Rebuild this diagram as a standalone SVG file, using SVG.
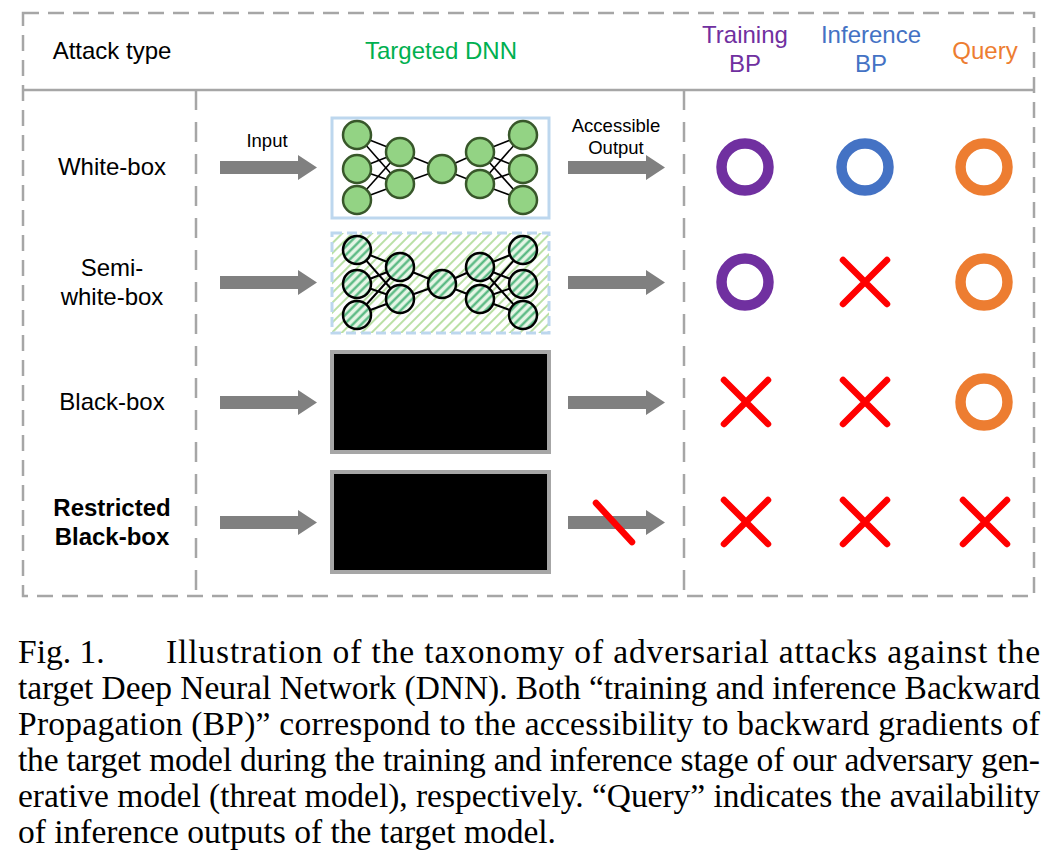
<svg xmlns="http://www.w3.org/2000/svg" width="1062" height="858" viewBox="0 0 1062 858">
<style>
.sans{font-family:"Liberation Sans",Arial,sans-serif;}
.lbl{font-family:"Liberation Sans",Arial,sans-serif;font-size:24px;fill:#000;text-anchor:middle;}
.sm{font-family:"Liberation Sans",Arial,sans-serif;font-size:18.5px;fill:#000;text-anchor:middle;}
.cap{font-family:"Liberation Serif","Times New Roman",serif;font-size:33.5px;fill:#000;}
.frame{fill:none;stroke:#A6A6A6;stroke-width:2.5;stroke-dasharray:16 9;}
.vdiv{fill:none;stroke:#A6A6A6;stroke-width:2.5;stroke-dasharray:20 12;}
.arrow{fill:#808080;}
.edge{stroke:#000;stroke-width:1.6;}
.edgeS{stroke:#000;stroke-width:2;}
.nodeW{fill:#93D384;stroke:#38572A;stroke-width:2.5;}
.nodeS{fill:url(#hatchC);stroke:#000;stroke-width:2.5;}
.ringP{fill:none;stroke:#7030A0;stroke-width:10.5;}
.ringB{fill:none;stroke:#4472C4;stroke-width:10.5;}
.ringO{fill:none;stroke:#ED7D31;stroke-width:10.5;}
.cross{stroke:#FF0000;stroke-width:6.5;stroke-linecap:round;fill:none;}
.blk{fill:#000;stroke:#A6A6A6;stroke-width:4;}
</style>
<defs>
<pattern id="hatchB" patternUnits="userSpaceOnUse" width="7" height="7" patternTransform="rotate(45)">
<rect width="7" height="7" fill="#FFFFFF"/>
<line x1="1" y1="0" x2="1" y2="7" stroke="#A9D98F" stroke-width="1.6"/>
</pattern>
<pattern id="hatchC" patternUnits="userSpaceOnUse" width="6" height="6" patternTransform="rotate(45)">
<rect width="6" height="6" fill="#E6F5E6"/>
<line x1="1.5" y1="0" x2="1.5" y2="6" stroke="#4DB47A" stroke-width="2.2"/>
</pattern>
<symbol id="arr" overflow="visible">
<path d="M0,-6.5 H78 V-12.5 L97,0 L78,12.5 V6.5 H0 Z"/>
</symbol>
<g id="edges">
<line x1="357" y1="135" x2="400" y2="152"/><line x1="357" y1="135" x2="400" y2="184"/>
<line x1="357" y1="169" x2="400" y2="152"/><line x1="357" y1="169" x2="400" y2="184"/>
<line x1="357" y1="200" x2="400" y2="152"/><line x1="357" y1="200" x2="400" y2="184"/>
<line x1="400" y1="152" x2="442" y2="169"/><line x1="400" y1="184" x2="442" y2="169"/>
<line x1="442" y1="169" x2="480" y2="152"/><line x1="442" y1="169" x2="480" y2="184"/>
<line x1="480" y1="152" x2="523" y2="135"/><line x1="480" y1="152" x2="523" y2="169"/><line x1="480" y1="152" x2="523" y2="200"/>
<line x1="480" y1="184" x2="523" y2="135"/><line x1="480" y1="184" x2="523" y2="169"/><line x1="480" y1="184" x2="523" y2="200"/>
</g>
<g id="nodepos">
<circle cx="357" cy="135" r="14"/><circle cx="357" cy="169" r="14"/><circle cx="357" cy="200" r="14"/>
<circle cx="400" cy="152" r="14"/><circle cx="400" cy="184" r="14"/>
<circle cx="442" cy="169" r="14"/>
<circle cx="480" cy="152" r="14"/><circle cx="480" cy="184" r="14"/>
<circle cx="523" cy="135" r="14"/><circle cx="523" cy="169" r="14"/><circle cx="523" cy="200" r="14"/>
</g>
</defs>

<g id="table">
<rect class="frame" x="23" y="13" width="1011" height="583"/>
<line x1="23" y1="90" x2="1034" y2="90" stroke="#A6A6A6" stroke-width="2.5"/>
<line class="vdiv" x1="196" y1="90" x2="196" y2="596"/>
<line class="vdiv" x1="684" y1="90" x2="684" y2="596"/>
</g>

<g id="header">
<text class="lbl" x="112" y="59">Attack type</text>
<text class="lbl" x="441" y="59" style="fill:#00B050">Targeted DNN</text>
<text class="lbl" x="745" y="43" style="fill:#7030A0">Training</text>
<text class="lbl" x="745" y="72" style="fill:#7030A0">BP</text>
<text class="lbl" x="871" y="43" style="fill:#4472C4">Inference</text>
<text class="lbl" x="871" y="72" style="fill:#4472C4">BP</text>
<text class="lbl" x="985" y="59" style="fill:#ED7D31">Query</text>
</g>

<g id="row-labels">
<text class="lbl" x="112" y="175">White-box</text>
<text class="lbl" x="112" y="276">Semi-</text>
<text class="lbl" x="112" y="305">white-box</text>
<text class="lbl" x="112" y="410">Black-box</text>
<text class="lbl" x="112" y="516" font-weight="bold">Restricted</text>
<text class="lbl" x="112" y="545" font-weight="bold">Black-box</text>
</g>

<g id="connectors">
<use href="#arr" class="arrow" x="220" y="167.5"/>
<use href="#arr" class="arrow" x="568" y="167.5"/>
<use href="#arr" class="arrow" x="220" y="282.5"/>
<use href="#arr" class="arrow" x="568" y="282.5"/>
<use href="#arr" class="arrow" x="220" y="402.5"/>
<use href="#arr" class="arrow" x="568" y="402.5"/>
<use href="#arr" class="arrow" x="220" y="522.5"/>
<use href="#arr" class="arrow" x="568" y="522.5"/>
<line class="cross" x1="596" y1="503" x2="632" y2="542"/>
<text class="sm" x="267" y="147">Input</text>
<text class="sm" x="616" y="132">Accessible</text>
<text class="sm" x="616" y="154">Output</text>
</g>

<g id="white-box-dnn">
<rect x="332" y="118" width="217" height="100" fill="#FFFFFF" stroke="#BDD7EE" stroke-width="3"/>
<use href="#edges" class="edge"/>
<use href="#nodepos" class="nodeW"/>
</g>

<g id="semi-white-box-dnn">
<rect x="332" y="233" width="217" height="100" fill="url(#hatchB)" stroke="#BDD7EE" stroke-width="3" stroke-dasharray="10 5"/>
<use href="#edges" class="edgeS" y="115"/>
<use href="#nodepos" class="nodeS" y="115"/>
</g>

<g id="black-box-dnn">
<rect class="blk" x="332" y="352" width="217" height="100"/>
</g>

<g id="restricted-black-box-dnn">
<rect class="blk" x="332" y="472" width="217" height="100"/>
</g>

<g id="access-marks">
<circle class="ringP" cx="745" cy="167" r="23.5"/>
<circle class="ringB" cx="865" cy="167" r="23.5"/>
<circle class="ringO" cx="984" cy="167" r="23.5"/>
<circle class="ringP" cx="745" cy="282" r="23.5"/>
<path class="cross" d="M843,260 L887,304 M887,260 L843,304"/>
<circle class="ringO" cx="984" cy="282" r="23.5"/>
<path class="cross" d="M724,380 L768,424 M768,380 L724,424"/>
<path class="cross" d="M843,380 L887,424 M887,380 L843,424"/>
<circle class="ringO" cx="984" cy="402" r="23.5"/>
<path class="cross" d="M724,500 L768,544 M768,500 L724,544"/>
<path class="cross" d="M843,500 L887,544 M887,500 L843,544"/>
<path class="cross" d="M963,500 L1007,544 M1007,500 L963,544"/>
</g>

<g id="caption">
<text class="cap" x="18" y="663">Fig. 1.</text>
<text class="cap" x="166" y="663" textLength="874" lengthAdjust="spacing">Illustration of the taxonomy of adversarial attacks against the</text>
<text class="cap" x="18" y="699" textLength="1022" lengthAdjust="spacing">target Deep Neural Network (DNN). Both “training and inference Backward</text>
<text class="cap" x="18" y="735" textLength="1022" lengthAdjust="spacing">Propagation (BP)” correspond to the accessibility to backward gradients of</text>
<text class="cap" x="18" y="771" textLength="1022" lengthAdjust="spacing">the target model during the training and inference stage of our adversary gen-</text>
<text class="cap" x="18" y="807" textLength="1022" lengthAdjust="spacing">erative model (threat model), respectively. “Query” indicates the availability</text>
<text class="cap" x="18" y="843">of inference outputs of the target model.</text>
</g>
</svg>
